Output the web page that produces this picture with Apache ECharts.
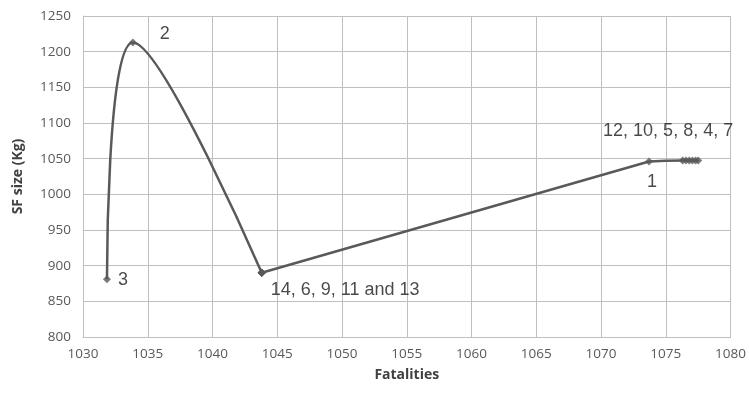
<!DOCTYPE html>
<html><head><meta charset="utf-8">
<script src="https://cdn.jsdelivr.net/npm/echarts@6/dist/echarts.min.js"></script>
<style>html,body{margin:0;padding:0;background:#fff}#c{width:749px;height:393px}</style>
</head><body><div id="c"></div>
<script>
// scenarios in order along the curve
const scenarios = ['3', '2', '14', '6', '9', '11', '13', '1', '12', '10', '5', '8', '4', '7'];
const fatalities = [1031.85, 1033.85, 1043.8, 1043.8, 1043.8, 1043.8, 1043.8, 1073.7, 1076.3, 1076.55, 1076.8, 1077.05, 1077.3, 1077.5];
const sfSize = [881, 1213, 890, 890, 890, 890, 890, 1046, 1047.5, 1047.5, 1047.5, 1047.5, 1047.5, 1047.5];
const pointLabels = ['3', '2', '14, 6, 9, 11 and 13', '', '', '', '', '1', '', '', '12, 10, 5, 8, 4, 7', '', '', ''];
const xTicks = [1030, 1035, 1040, 1045, 1050, 1055, 1060, 1065, 1070, 1075, 1080];
const yTicks = [800, 850, 900, 950, 1000, 1050, 1100, 1150, 1200, 1250];

const labelPos = {
  '3': {position: 'right', offset: [2, 1]},
  '2': {position: 'right', offset: [18, -8]},
  '14, 6, 9, 11 and 13': {position: 'right', offset: [0, 17]},
  '1': {position: 'bottom', offset: [3, 3]},
  '12, 10, 5, 8, 4, 7': {position: 'top', offset: [-21, -11]}
};

const pts = fatalities.map((x, i) => [x, sfSize[i]]);
// curve pieces (index ranges into the arrays), as the original smoothed line bends
const pieces = [[0, 2], [2, 7], [7, 13]];
const lineSeries = pieces.map(([a, b]) => {
  const seg = [];
  for (let i = a; i <= b; i++) {
    const last = seg[seg.length - 1];
    if (!last || last[0] !== pts[i][0] || last[1] !== pts[i][1]) seg.push(pts[i]);
  }
  return {
    type: 'line', data: seg, smooth: seg.length > 2 ? 0.5 : false,
    showSymbol: false, symbol: 'none', silent: true,
    lineStyle: {color: '#595959', width: 2.5}
  };
});

const markerData = pts.map((p, i) => {
  const lbl = pointLabels[i];
  const item = {value: p, name: scenarios[i]};
  if (lbl) item.label = Object.assign({show: true, formatter: lbl}, labelPos[lbl]);
  return item;
});

const chart = echarts.init(document.getElementById('c'));
const axisFont = {fontFamily: 'Open Sans', fontSize: 13.5, color: '#595959', formatter: v => String(v)};
chart.setOption({
  animation: false,
  grid: {left: 83, right: 16, top: 16, bottom: 56},
  xAxis: {
    type: 'value', min: xTicks[0], max: xTicks[xTicks.length - 1], interval: 5,
    name: 'Fatalities', nameLocation: 'middle', nameGap: 31,
    nameTextStyle: {fontFamily: 'Open Sans', fontWeight: 'bold', fontSize: 14, color: '#404040'},
    axisLine: {lineStyle: {color: '#bfbfbf'}},
    axisTick: {show: false},
    axisLabel: Object.assign({margin: 10}, axisFont),
    splitLine: {show: true, lineStyle: {color: '#bfbfbf', width: 1}}
  },
  yAxis: {
    type: 'value', min: yTicks[0], max: yTicks[yTicks.length - 1], interval: 50,
    name: 'SF size (Kg)', nameLocation: 'middle', nameGap: 58, nameRotate: 90,
    nameTextStyle: {fontFamily: 'Open Sans', fontWeight: 'bold', fontSize: 14, color: '#404040'},
    axisLine: {show: true, lineStyle: {color: '#bfbfbf'}},
    axisTick: {show: false},
    axisLabel: Object.assign({margin: 12}, axisFont),
    splitLine: {show: true, lineStyle: {color: '#bfbfbf', width: 1}}
  },
  series: lineSeries.concat([{
    type: 'scatter',
    data: markerData,
    symbol: 'diamond',
    symbolSize: 8,
    itemStyle: {color: '#595959'},
    label: {fontFamily: 'Liberation Sans', fontSize: 18, color: '#1a1a1a'}
  }])
});
</script></body></html>
